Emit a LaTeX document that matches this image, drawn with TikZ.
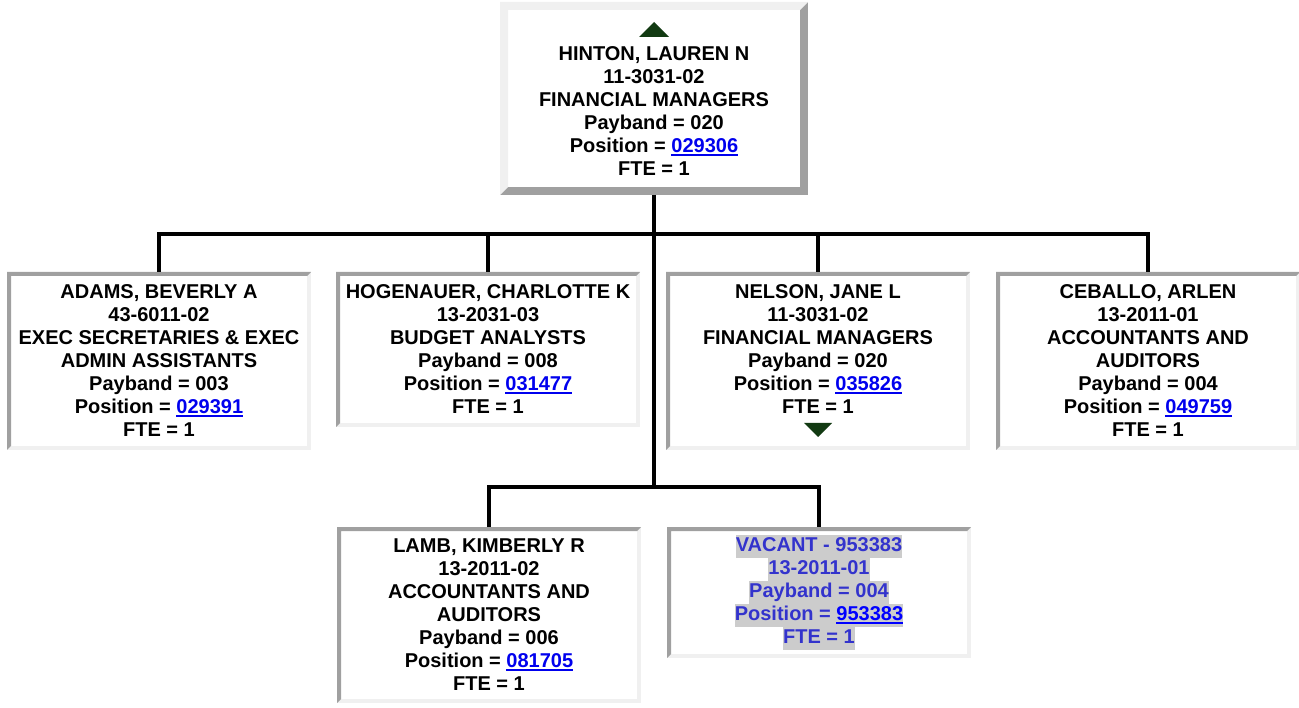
\documentclass[tikz,border=0pt]{standalone}
\usepackage{fontspec}
\setmainfont{Liberation Sans}
\usetikzlibrary{calc,backgrounds}
\definecolor{edgedark}{HTML}{A0A0A0}
\definecolor{edgelite}{HTML}{F0F0F0}
\definecolor{linkblue}{HTML}{0000EE}
\definecolor{vacblue}{HTML}{3333CC}
\definecolor{vacgray}{HTML}{CCCCCC}
\definecolor{arrowgreen}{HTML}{123A12}
\newcommand\lnk[2][linkblue]{{\color{#1}\setbox0\hbox{#2}\rlap{\rule[-3pt]{\wd0}{2pt}}\box0}}
\newcommand\hlite[1]{{\fboxsep=0pt\colorbox{vacgray}{\rule[-6.5pt]{0pt}{23pt}#1}}}
\begin{document}
\begin{tikzpicture}[x=1pt,y=-1pt,
  post/.style={rectangle,inner sep=0pt,outer sep=0pt,align=center,minimum width=304pt,font=\fontsize{20}{23}\selectfont\bfseries},
  tie/.style={line width=4pt,line join=miter},
  tri/.style={fill=arrowgreen}]
  \useasboundingbox (0,0) rectangle (1299,708);
  \node[post,minimum width=308pt,minimum height=193pt] (top) at (654,98.5) {\strut\\HINTON, LAUREN N\\11-3031-02\\FINANCIAL MANAGERS\\Payband = 020\\Position = \lnk{029306}\\FTE = 1};
  \node[post,minimum height=178pt] (adams) at (159,361) {ADAMS, BEVERLY A\\43-6011-02\\EXEC SECRETARIES \& EXEC\\ADMIN ASSISTANTS\\Payband = 003\\Position = \lnk{029391}\\FTE = 1};
  \node[post,minimum height=155pt] (hogen) at (488,349.5) {HOGENAUER, CHARLOTTE K\\13-2031-03\\BUDGET ANALYSTS\\Payband = 008\\Position = \lnk{031477}\\FTE = 1};
  \node[post,minimum height=178pt] (nelson) at (818,361) {NELSON, JANE L\\11-3031-02\\FINANCIAL MANAGERS\\Payband = 020\\Position = \lnk{035826}\\FTE = 1\\\mbox{}};
  \node[post,minimum height=178pt] (ceballo) at (1148,361) {CEBALLO, ARLEN\\13-2011-01\\ACCOUNTANTS AND\\AUDITORS\\Payband = 004\\Position = \lnk{049759}\\FTE = 1};
  \node[post,minimum height=176pt] (lamb) at (489,615) {LAMB, KIMBERLY R\\13-2011-02\\ACCOUNTANTS AND\\AUDITORS\\Payband = 006\\Position = \lnk{081705}\\FTE = 1};
  \node[post,minimum height=131pt,text=vacblue] (vacant) at (819,592.5) {\hlite{VACANT - 953383}\\\hlite{13-2011-01}\\\hlite{Payband = 004}\\\hlite{Position = \lnk[blue]{953383}}\\\hlite{FTE = 1}};
  \begin{scope}[on background layer]
    \foreach \n in {adams,hogen,nelson,ceballo,lamb,vacant}{
      \fill[edgelite] (\n.north west) rectangle (\n.south east);
      \fill[white] ($(\n.north west)+(4,4)$) rectangle ($(\n.south east)+(-4,-4)$);
      \fill[edgedark] (\n.south west) -- (\n.north west) -- (\n.north east) -- ($(\n.north east)+(-4,4)$) -- ($(\n.north west)+(4,4)$) -- ($(\n.south west)+(4,-4)$) -- cycle;
    }
    \fill[edgedark] (top.north west) rectangle (top.south east);
    \fill[white] ($(top.north west)+(8,8)$) rectangle ($(top.south east)+(-8,-8)$);
    \fill[edgelite] (top.south west) -- (top.north west) -- (top.north east) -- ($(top.north east)+(-8,8)$) -- ($(top.north west)+(8,8)$) -- ($(top.south west)+(8,-8)$) -- cycle;
  \end{scope}
  \fill[tri] ($(top.north)+(0,20)$) -- ++(15,15) -- ++(-30,0) -- cycle;
  \fill[tri] ($(nelson.south)+(0,-13)$) -- ++(14,-14) -- ++(-28,0) -- cycle;
  \coordinate (j1) at (654,234);
  \coordinate (j2) at (654,487);
  \draw[tie] (top.south) -- (j2);
  \draw[tie] (adams.north) |- (j1) -| (ceballo.north);
  \draw[tie] (hogen.north) -- (hogen.north |- j1);
  \draw[tie] (nelson.north) -- (nelson.north |- j1);
  \draw[tie] (lamb.north) |- (j2) -| (vacant.north);
\end{tikzpicture}
\end{document}
